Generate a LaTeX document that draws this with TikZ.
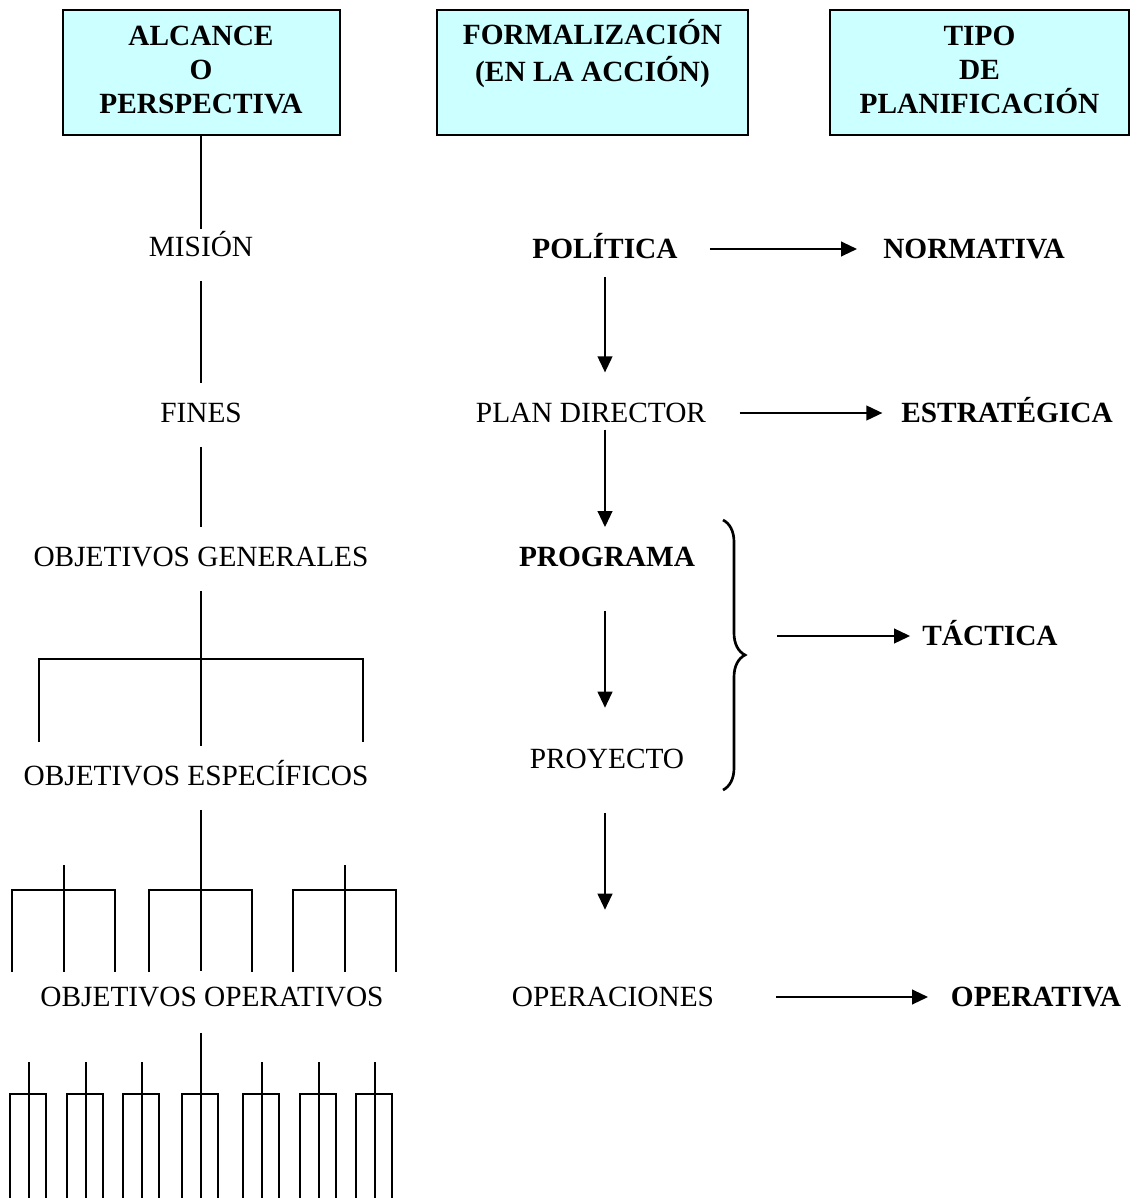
\documentclass[tikz,border=0pt]{standalone}
\usepackage{fontspec}
\setmainfont{Liberation Serif}
\usetikzlibrary{arrows.meta,decorations.pathreplacing}

\newcommand{\bigtxt}{\fontsize{22}{25.5}\selectfont}

\begin{document}
\begin{tikzpicture}[x=0.75pt,y=0.75pt,yscale=-1,xscale=1,
   hdr/.style={draw, line width=1.5pt, fill={rgb, 255:red, 204; green, 255; blue, 255}, font=\bigtxt\bfseries, align=center, anchor=north, inner sep=0pt, minimum height=93.75pt},
   lbl/.style={font=\bigtxt, inner sep=0pt, text height=14.5pt, text depth=0pt},
   blbl/.style={lbl, font=\bigtxt\bfseries},
   ln/.style={line width=1.5pt},
   arr/.style={line width=1.5pt, -{Triangle[length=12pt,width=11pt]}},
   spine/.style={ln, shorten <=18pt, shorten >=15pt}]
   \useasboundingbox (0,0) rectangle (1137,1198);

   % header boxes
   \node [hdr, minimum width=207.75pt] (alc) at (201,9) {\strut ALCANCE\\O\\PERSPECTIVA\strut};
   \node [hdr, minimum width=233.25pt] (form) at (592.5,9) {\strut FORMALIZACIÓN\\(EN LA ACCIÓN)\\\strut};
   \node [hdr, minimum width=224.25pt] (tipo) at (979.5,9) {\strut TIPO\\DE\\PLANIFICACIÓN\strut};

   % left column
   \node [lbl] (mision) at (201,247) {MISIÓN};
   \node [lbl] (fines) at (201,413) {FINES};
   \node [lbl] (gen) at (201,557) {OBJETIVOS GENERALES};
   \node [lbl] (esp) at (196,776) {OBJETIVOS ESPECÍFICOS};
   \node [lbl] (oper) at (212,997) {OBJETIVOS OPERATIVOS};

   % middle column
   \node [blbl] (pol) at (605,249) {POLÍTICA};
   \node [lbl] (plan) at (591,413) {PLAN DIRECTOR};
   \node [blbl] (prog) at (607,557) {PROGRAMA};
   \node [lbl] (proy) at (607,759) {PROYECTO};
   \node [lbl] (opc) at (613,997) {OPERACIONES};

   % right column
   \node [blbl] (norm) at (974,249) {NORMATIVA};
   \node [blbl] (estr) at (1007,413) {ESTRATÉGICA};
   \node [blbl] (tac) at (990,636) {TÁCTICA};
   \node [blbl] (opv) at (1036,997) {OPERATIVA};

   % spine
   \draw [ln, shorten >=6pt] (alc.south) -- (mision.north);
   \draw [spine] (mision) -- (fines);
   \draw [spine] (fines) -- (gen);
   \draw [spine] (gen.south -| alc.south) -- (esp.north -| alc.south);
   \draw [ln] (39,742) -- (39,659) -- (363,659) -- (363,742);
   \draw [spine, shorten >=12pt] (esp.south -| alc.south) -- (oper.north -| alc.south);
   \foreach \c in {64,201,345}{
      \draw [ln] (\c-52,972) -- (\c-52,890) -- (\c+51,890) -- (\c+51,972);
   }
   \foreach \c in {64,345} \draw [ln] (\c,865) -- (\c,972);
   \coordinate (bot) at (201,1198);
   \draw [ln, shorten <=19.5pt] (oper.south -| alc.south) -- (bot);
   \foreach \c in {29,86,142,201,262,319,375}{
      \draw [ln] (\c-19,1198) -- (\c-19,1094) -- (\c+17,1094) -- (\c+17,1198);
   }
   \foreach \c in {29,86,142,262,319,375} \draw [ln] (\c,1062) -- (\c,1198);

   % arrows down
   \draw [arr, shorten <=13.5pt, shorten >=23pt] (pol.south) -- (plan.north -| pol);
   \draw [arr, shorten <=5pt, shorten >=15pt] (plan.south -| pol) -- (prog.north -| pol);
   \draw [arr, shorten <=33pt, shorten >=31pt] (prog.south -| pol) -- (proy.north -| pol);
   \draw [arr, shorten <=33pt, shorten >=58pt] (proy.south -| pol) -- (opc.north -| pol);

   % arrows right
   \draw [arr, shorten <=24pt, shorten >=19.5pt] (pol.east) -- (norm.west);
   \draw [arr, shorten <=25pt, shorten >=14pt] (plan.east) -- (estr.west);
   \draw [arr, shorten <=46.5pt, shorten >=17pt] (opc.east) -- (opv.west);

   % brace
   \draw [decorate, decoration={brace, amplitude=16.5pt}, line width=2pt] (723,520) -- (723,790);
   \coordinate (brt) at (777,636);
   \draw [arr, shorten >=9pt] (brt) -- (tac.west);

\end{tikzpicture}
\end{document}
